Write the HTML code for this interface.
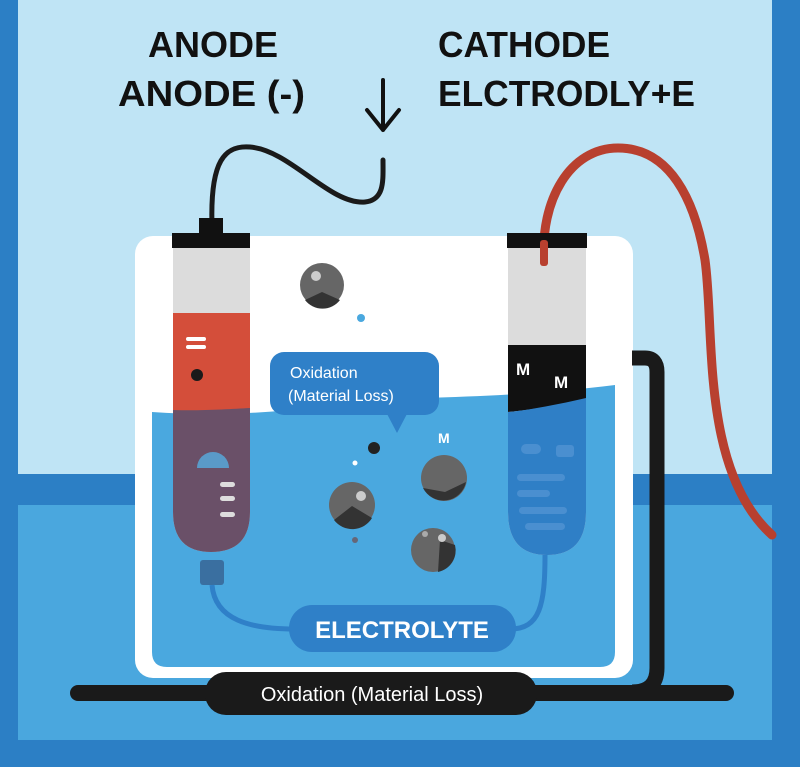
<!DOCTYPE html>
<html><head><meta charset="utf-8"><style>
html,body{margin:0;padding:0;background:#2c7fc5}
svg{display:block}
text{font-family:"Liberation Sans",sans-serif}
</style></head><body>
<svg width="800" height="767" viewBox="0 0 800 767" xmlns="http://www.w3.org/2000/svg">
<rect x="0" y="0" width="800" height="767" fill="#2c7fc5"/>
<rect x="18" y="0" width="754" height="474" fill="#bfe4f5"/>
<rect x="18" y="505" width="754" height="235" fill="#4aa7de"/>

<!-- titles -->
<g font-size="36" fill="#111" font-weight="bold">
<text x="148" y="57" textLength="130" lengthAdjust="spacingAndGlyphs">ANODE</text>
<text x="118" y="106" textLength="187" lengthAdjust="spacingAndGlyphs">ANODE (-)</text>
<text x="438" y="57" textLength="172" lengthAdjust="spacingAndGlyphs">CATHODE</text>
<text x="438" y="106" textLength="257" lengthAdjust="spacingAndGlyphs">ELCTRODLY+E</text>
</g>
<path d="M383 80 V130 M367 110 L383 130 L399 110" stroke="#111" stroke-width="4" fill="none" stroke-linecap="round" stroke-linejoin="round"/>

<!-- wires -->
<path d="M212 225 C210 160 225 145 250 147 C290 150 330 205 365 202 C385 200 383 180 383 160" stroke="#1a1a1a" stroke-width="5" fill="none" stroke-linecap="round"/>
<path d="M544 262 C540 200 570 148 618 148 C670 148 695 200 705 260 C715 330 700 470 772 535" stroke="#b8402f" stroke-width="9" fill="none" stroke-linecap="round"/>

<!-- tank -->
<rect x="135" y="236" width="498" height="442" rx="18" fill="#fff"/>
<path d="M152 412 C260 420 340 402 420 398 C500 396 560 392 615 385 V652 Q615 667 600 667 H167 Q152 667 152 652 Z" fill="#4aa8df"/>

<!-- black cable -->
<path d="M632 358 H645 Q657 358 657 372 V668 Q657 692 632 692" stroke="#1a1a1a" stroke-width="15" fill="none"/>
<path d="M78 693 H726" stroke="#1a1a1a" stroke-width="16" stroke-linecap="round"/>
<rect x="205" y="672" width="332" height="43" rx="21" fill="#1a1a1a"/>
<text x="372" y="701" font-size="20" fill="#fff" text-anchor="middle">Oxidation (Material  Loss)</text>

<!-- anode tube -->
<path d="M173 248 H250 V512 Q250 552 211 552 Q173 552 173 512 Z" fill="#dcdcdc"/>
<rect x="173" y="313" width="77" height="100" fill="#d44e3a"/>
<path d="M173 410 C200 411 230 409 250 408 V512 Q250 552 211 552 Q173 552 173 512 Z" fill="#6a5068"/>
<rect x="172" y="233" width="78" height="15" fill="#111"/>
<rect x="199" y="218" width="24" height="16" fill="#111"/>
<rect x="186" y="337" width="20" height="4" rx="2" fill="#fff"/>
<rect x="186" y="345" width="20" height="4" rx="2" fill="#fff"/>
<circle cx="197" cy="375" r="6" fill="#1a1a1a"/>
<path d="M197 468 A16 16 0 0 1 229 468 Z" fill="#5a9ac8"/>
<rect x="220" y="482" width="15" height="5" rx="2.5" fill="#ddd"/>
<rect x="220" y="496" width="15" height="5" rx="2.5" fill="#ddd"/>
<rect x="220" y="512" width="15" height="5" rx="2.5" fill="#ddd"/>
<rect x="200" y="560" width="24" height="25" rx="3" fill="#3a6fa0"/>
<path d="M212 585 C215 620 250 629 295 629" stroke="#2f80c8" stroke-width="5" fill="none"/>

<!-- cathode tube -->
<path d="M508 248 H586 V512 Q586 555 547 555 Q508 555 508 512 Z" fill="#dcdcdc"/>
<path d="M508 345 H586 V400 C560 405 530 410 508 412 Z" fill="#111"/>
<path d="M508 412 C530 410 560 404 586 398 V512 Q586 555 547 555 Q508 555 508 512 Z" fill="#2f7fc6"/>
<rect x="507" y="233" width="80" height="15" fill="#111"/>
<rect x="540" y="240" width="8" height="26" rx="3" fill="#b8402f"/>
<text x="516" y="375" font-size="17" font-weight="bold" fill="#fff">M</text>
<text x="554" y="388" font-size="17" font-weight="bold" fill="#fff">M</text>
<g fill="#4a8fd0">
<rect x="521" y="444" width="20" height="10" rx="5"/>
<rect x="556" y="445" width="18" height="12" rx="3"/>
<rect x="517" y="474" width="48" height="7" rx="3.5"/>
<rect x="517" y="490" width="33" height="7" rx="3.5"/>
<rect x="519" y="507" width="48" height="7" rx="3.5"/>
<rect x="525" y="523" width="40" height="7" rx="3.5"/>
</g>
<path d="M545 555 C545 605 540 629 510 629" stroke="#2f80c8" stroke-width="5" fill="none"/>

<!-- electrolyte -->
<rect x="289" y="605" width="227" height="47" rx="23" fill="#2f80c8"/>
<text x="402" y="638" font-size="24" font-weight="bold" fill="#fff" text-anchor="middle">ELECTROLYTE</text>

<!-- bubble -->
<rect x="270" y="352" width="169" height="63" rx="14" fill="#2f80c8"/>
<path d="M386 412 L397 433 L408 412 Z" fill="#2f80c8"/>
<text x="290" y="378" font-size="16" fill="#fff">Oxidation</text>
<text x="288" y="401" font-size="16" fill="#fff">(Material Loss)</text>
<text x="438" y="443" font-size="14" font-weight="bold" fill="#fff">M</text>

<!-- balls -->
<g>
<circle cx="322" cy="285" r="22" fill="#666"/><path d="M305 300 L322 292 L340 300 A22 22 0 0 1 305 300Z" fill="#333"/><circle cx="316" cy="276" r="5" fill="#ccc"/>
<circle cx="352" cy="505" r="23" fill="#666"/><path d="M334 520 L352 506 L372 518 A23 23 0 0 1 334 520Z" fill="#333"/><circle cx="361" cy="496" r="5" fill="#ccc"/>
<circle cx="444" cy="478" r="23" fill="#666"/><path d="M423 488 L445 492 L466 482 A23 23 0 0 1 423 488Z" fill="#333"/>
<circle cx="433" cy="550" r="22" fill="#666"/><path d="M440 540 L455 545 A22 22 0 0 1 438 572 Z" fill="#333"/><circle cx="442" cy="538" r="4" fill="#ccc"/><circle cx="425" cy="534" r="3" fill="#aaa"/>
</g>
<circle cx="361" cy="318" r="4" fill="#4aa8df"/>
<circle cx="374" cy="448" r="6" fill="#222"/>
<circle cx="355" cy="463" r="2.5" fill="#fff"/>
<circle cx="355" cy="540" r="3" fill="#667"/>
</svg>
</body></html>
